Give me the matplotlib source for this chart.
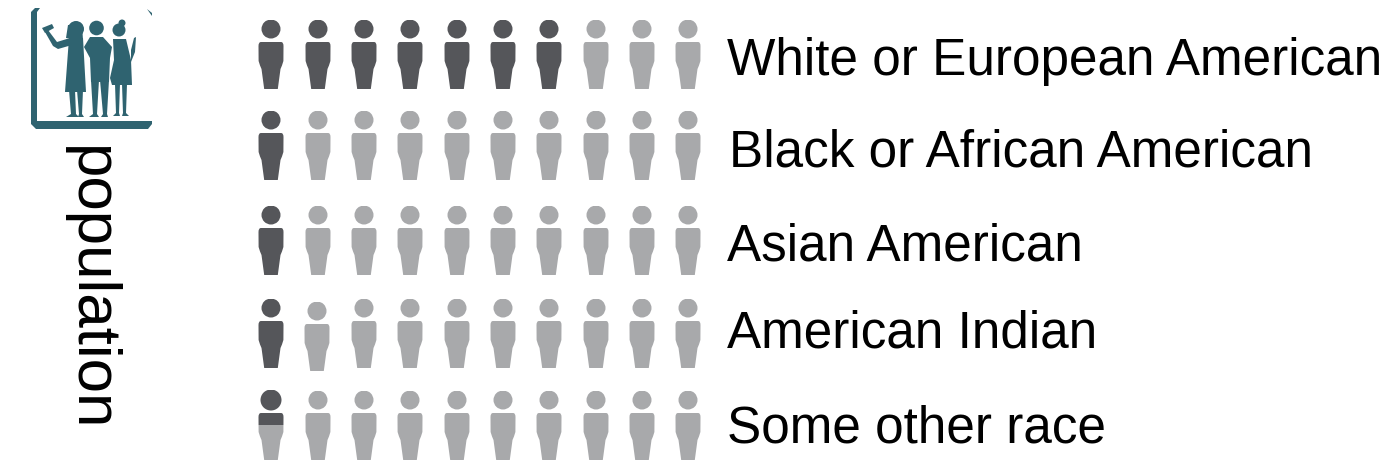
import matplotlib
matplotlib.use("Agg")
import matplotlib.pyplot as plt
from matplotlib.patches import Circle, Polygon, PathPatch, Rectangle
from matplotlib.path import Path

plt.rcParams['font.family'] = ['Liberation Sans', 'DejaVu Sans']

# 数据
categories = ["White or European American", "Black or African American",
              "Asian American", "American Indian", "Some other race"]
filled_people = [7, 1, 1, 1, 0.5]  # out of 10 figures
total_people = 10

DARK = '#55565a'
LIGHT = '#a8a9ab'
TEAL = '#2f6370'

# layout in reference pixels
person_x = [271, 318, 364, 410, 457, 503, 549, 596, 642, 688]
row_y = [29, 120, 215, 308, 400]
label_x = [727, 729, 727, 727, 727]
label_y = [62, 153, 247, 334, 429]

fig = plt.figure(figsize=(13.83, 4.76), dpi=100)
ax = fig.add_axes([0, 0, 1, 1])
ax.set_xlim(0, 1383)
ax.set_ylim(476, 0)
ax.axis('off')


def body_path(cx, head_y):
    """body outline, y measured from head centre"""
    verts = [(-10, 13), (10, 13), (12.5, 13), (12.5, 17), (12.4, 32), (11, 37),
             (9.5, 40), (6.8, 60), (-6.8, 60), (-9.5, 40), (-11, 37), (-12.4, 32),
             (-12.5, 17), (-12.5, 13), (-10, 13)]
    codes = [Path.MOVETO, Path.LINETO, Path.CURVE3, Path.CURVE3, Path.LINETO, Path.CURVE3,
             Path.CURVE3, Path.LINETO, Path.LINETO, Path.LINETO, Path.CURVE3, Path.CURVE3,
             Path.LINETO, Path.CURVE3, Path.CURVE3]
    return Path([(cx + px, head_y + py) for px, py in verts], codes)


def draw_person(cx, head_y, fraction, head_r=9.5):
    """fraction = share of the figure (from the top) in the dark colour"""
    top = head_y - head_r
    bottom = head_y + 60
    split = top + (bottom - top) * fraction
    for colour, y0, y1 in [(LIGHT, split, bottom), (DARK, top, split)]:
        if y1 <= y0:
            continue
        clip = Rectangle((cx - 20, y0), 40, y1 - y0, transform=ax.transData)
        head = Circle((cx, head_y), head_r, fc=colour, ec='none')
        body = PathPatch(body_path(cx, head_y), fc=colour, ec='none')
        for p in (head, body):
            ax.add_patch(p)
            p.set_clip_path(clip)


for r, (cat, n) in enumerate(zip(categories, filled_people)):
    for i in range(total_people):
        frac = min(max(n - i, 0), 1)
        if r == 3 and i == 1:
            # this one sits a little lower in the original
            draw_person(person_x[i] - 1, row_y[r] + 3, frac)
        elif 0 < frac < 1:
            draw_person(person_x[i], row_y[r], frac, head_r=10.5)
        else:
            draw_person(person_x[i], row_y[r], frac)
    ax.text(label_x[r], label_y[r], cat, fontsize=36.9, color='black',
            ha='left', va='center')

ax.text(90, 288, "population", fontsize=44.6, color='black', rotation=270,
        ha='center', va='center')

# icon frame
frame = [(40, 8), (35, 8), (31, 12), (31, 124), (36, 129), (148, 129), (152, 124),
         (152, 121), (37, 121), (37, 12), (40, 8)]
ax.add_patch(Polygon(frame, closed=True, fc=TEAL, ec='none'))
ax.add_patch(Polygon([(147, 9), (152, 13), (152, 16)], closed=True, fc=TEAL, ec='none'))

# three figures
shapes = [
    # left woman: dress, hair, raised arm, phone
    [(69, 38), (83, 38), (86, 92), (65, 92)],
    [(68, 25), (82, 25), (83, 40), (66, 38)],
    [(70, 38), (72, 45), (58, 49), (53, 46), (45, 32), (48, 30), (57, 42)],
    [(42, 28), (52, 24), (54, 28), (45, 33)],
    [(69, 90), (75, 90), (76, 114), (79, 117), (66, 117), (71, 114)],
    [(77, 90), (83, 90), (82, 114), (84, 117), (78, 117), (79, 114)],
    # middle
    [(90, 37), (103, 37), (112, 47), (110, 58), (109, 82), (91, 82), (90, 58), (84, 47)],
    [(91, 80), (99, 80), (97, 114), (99, 117), (89, 117), (93, 114)],
    [(100, 80), (109, 80), (107, 114), (108, 117), (101, 117), (103, 114)],
    # right woman
    [(113, 39), (126, 39), (131, 60), (132, 85), (112, 85), (110, 78), (114, 60)],
    [(115, 84), (120, 84), (119, 113), (120, 116), (113, 116), (116, 113)],
    [(122, 84), (127, 84), (126, 113), (129, 116), (122, 116), (123, 113)],
    [(131, 50), (134, 38), (136, 37), (135, 52), (131, 62)],
]
for s in shapes:
    ax.add_patch(Polygon(s, closed=True, fc=TEAL, ec='none'))
for cx, cy, r in [(76, 29, 8), (96.5, 28, 7.3), (119, 30, 6.5), (122, 23, 3.5)]:
    ax.add_patch(Circle((cx, cy), r, fc=TEAL, ec='none'))

fig.savefig('out.png', dpi=100)
